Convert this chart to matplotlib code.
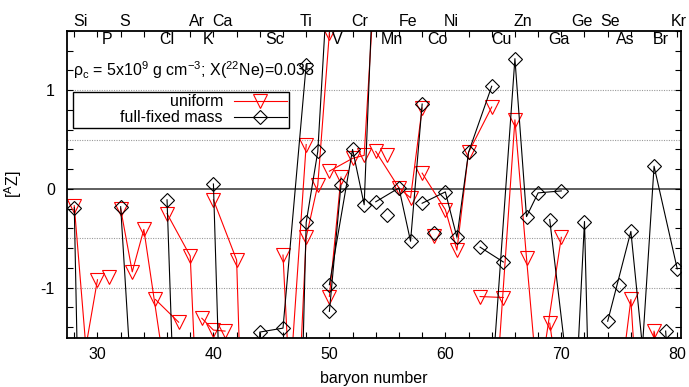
"""Isotopic production factors [AZ] vs baryon number: uniform vs full-fixed mass."""
import matplotlib
matplotlib.use("Agg")
import matplotlib.pyplot as plt
from matplotlib.ticker import MultipleLocator, FixedLocator

plt.rcParams["font.family"] = ["Liberation Sans", "DejaVu Sans"]
plt.rcParams["mathtext.fontset"] = "custom"
plt.rcParams["mathtext.rm"] = "Liberation Sans"
plt.rcParams["mathtext.it"] = "Liberation Sans:italic"

# one group per element (stable isotopes, connected within an element only)
elements = ["Si", "P", "S", "Cl", "Ar", "K", "Ca", "Sc", "Ti", "V", "Cr", "Mn",
            "Fe", "Co", "Ni", "Cu", "Zn", "Ga", "Ge", "As", "Se", "Br", "Kr"]
iso_A = [[28, 29, 30], [31], [32, 33, 34, 36], [35, 37], [36, 38, 40],
         [39, 40, 41], [40, 42, 43, 44, 46, 48], [45], [46, 47, 48, 49, 50],
         [50, 51], [50, 52, 53, 54], [55], [54, 56, 57, 58], [59],
         [58, 60, 61, 62, 64], [63, 65], [64, 66, 67, 68, 70], [69, 71],
         [70, 72, 73, 74, 76], [75], [74, 76, 77, 78, 80], [79, 81], [78, 80]]
uniform = [[-0.17, -1.6, -0.92], [-0.89], [-0.20, -0.84, -0.41, -2.0],
           [-1.12, -1.35], [-0.25, -0.68, -6.0], [-1.31, -1.43, -1.44],
           [-0.11, -0.72, -4.5, -3.5, -3.0, 0.45], [-3.0],
           [-0.67, -3.0, -0.49, 0.04, 1.58], [-1.09, 0.12],
           [0.18, 0.31, 0.34, 2.3], [0.34], [0.38, 0.01, -0.09, 0.82], [-0.48],
           [0.16, -0.21, -0.62, 0.37, 0.83], [-1.09, -1.10],
           [-2.7, 0.70, -0.70, -2.05, -0.49], [-1.36, -3.0],
           [-3.0, -3.0, -3.0, -3.0, -3.0], [-3.0],
           [-3.0, -1.12, -3.0, -1.44, -3.0], [-3.0, -3.0], [-3.0, -3.0]]
full_fixed = [[-0.19, -6.0, -6.0], [-6.0], [-0.18, -2.1, -5.0, -5.0],
              [-5.0, -5.0], [-0.11, -7.0, -5.0], [-5.0, -5.0, -5.0],
              [0.05, -7.7, -5.0, -1.45, -1.41, 1.26], [-5.0],
              [-5.0, -5.0, -0.34, 0.38, 2.4], [-1.24, 0.04],
              [-0.97, 0.40, -0.16, 2.8], [-0.26], [-0.13, 0.01, -0.53, 0.86],
              [-0.45], [-0.145, -0.03, -0.49, 0.37, 1.04], [-0.59, -0.74],
              [-2.0, 1.32, -0.28, -0.04, -0.02], [-0.31, -2.3],
              [-5.0, -0.33, -5.0, -5.0, -5.0], [-0.97],
              [-1.34, -0.43, -1.6, 0.23, -0.81], [-1.44, -5.0], [-5.0, -5.0]]

upper_labels = ["Si", "S", "Ar", "Ca", "Ti", "Cr", "Fe", "Ni", "Zn", "Ge", "Se", "Kr"]
upper_x = [28.5, 32.35, 38.6, 40.75, 47.95, 52.65, 56.75, 60.5, 66.7, 71.8, 74.2, 80.1]
lower_labels = ["P", "Cl", "K", "Sc", "V", "Mn", "Co", "Cu", "Ga", "As", "Br"]
lower_x = [30.8, 36.0, 39.5, 45.3, 50.7, 55.35, 59.3, 64.8, 69.8, 75.5, 78.6]

FS = 11.5

fig = plt.figure(figsize=(6.89, 3.87), dpi=100)
ax = fig.add_axes([0.0977, 0.1274, 0.8903, 0.7925])

for y in (-1.0, -0.5, 0.5, 1.0):
    ax.axhline(y, color="#9a9a9a", lw=0.8, ls=(0, (1, 1.2)), zorder=0)
ax.axhline(0, color="#333333", lw=1.1, zorder=0)

for i, (A, v) in enumerate(zip(iso_A, uniform)):
    ax.plot(A, v, color="red", lw=0.8, marker="v", ms=10, mfc="none",
            mec="red", mew=0.8, label="uniform" if i == 0 else None, zorder=2)
for i, (A, v) in enumerate(zip(iso_A, full_fixed)):
    ax.plot(A, v, color="black", lw=0.8, marker="D", ms=7, mfc="none",
            mec="black", mew=0.8, label="full-fixed mass" if i == 0 else None,
            zorder=3)

ax.set_xlim(27.4, 80.3)
ax.set_ylim(-1.507, 1.6)

ax.xaxis.set_major_locator(MultipleLocator(10))
ax.xaxis.set_minor_locator(MultipleLocator(2))
ax.yaxis.set_major_locator(FixedLocator([-1, 0, 1]))
ax.yaxis.set_minor_locator(MultipleLocator(0.2))
ax.set_yticklabels(["-1", "0", "1"])
ax.tick_params(which="both", direction="in", top=True, right=True,
               length=4, width=0.8, labelsize=FS)
ax.tick_params(axis="x", pad=7)
ax.tick_params(axis="y", pad=9)
for s in ax.spines.values():
    s.set_linewidth(1.3)

ax.set_xlabel("baryon number", fontsize=FS, labelpad=6)
ax.set_ylabel(r"[$^{\mathrm{A}}$Z]", fontsize=FS, labelpad=12)

ax.text(27.9, 1.2, "ρ$_{\\mathrm{c}}$ = 5x10$^{9}$ g cm$^{-3}$; X($^{22}$Ne)=0.035",
        fontsize=FS, ha="left", va="center")

for lab, x in zip(upper_labels, upper_x):
    ax.text(x, 1.70, lab, fontsize=FS, ha="center", va="center", clip_on=False)
for lab, x in zip(lower_labels, lower_x):
    ax.text(x, 1.51, lab, fontsize=FS, ha="center", va="center", clip_on=False)

# gnuplot-style key: wide box, right-aligned titles, sample on the right
handles, labels = ax.get_legend_handles_labels()
labels = [" " * 10 + lab for lab in labels]
leg = ax.legend(handles, labels, loc="upper left", bbox_to_anchor=(0.0093, 0.801),
                borderaxespad=0, markerfirst=False, fancybox=False,
                framealpha=1, edgecolor="black", fontsize=FS, numpoints=1,
                handlelength=3.3, labelspacing=0.05, borderpad=0.15,
                handletextpad=0.7)
leg.get_frame().set_linewidth(1.0)
for t in leg.get_texts():
    t.set_ha("right")

fig.savefig("out.png", dpi=100)
